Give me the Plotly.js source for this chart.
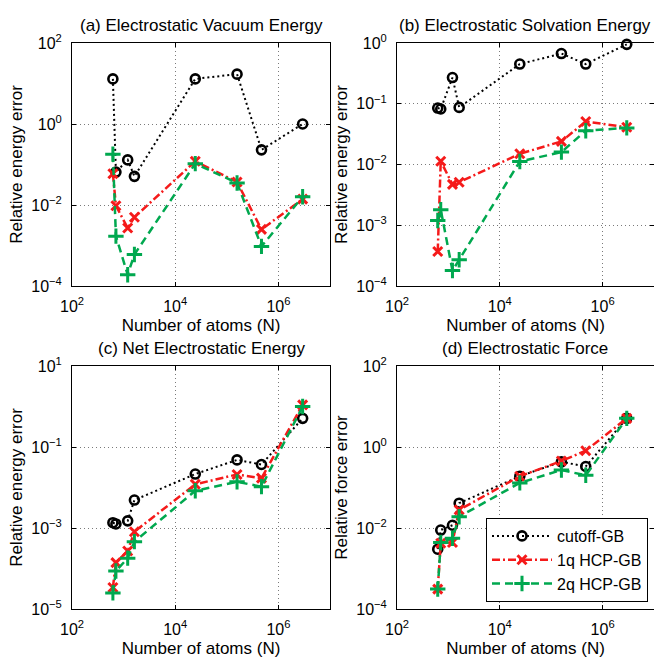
<!DOCTYPE html>
<html><head><meta charset="utf-8">
<script src="https://cdn.plot.ly/plotly-3.0.1.min.js"></script>
<style>html,body{margin:0;padding:0;background:#fff}</style>
</head><body><div id="chart" style="width:654px;height:658px"></div>
<script>
// ---- data ----
const atoms = [620, 710, 1200, 1620, 24500, 158000, 470000, 2950000];

// (a) Electrostatic Vacuum Energy
const vacCutoff = [13, 0.065, 0.13, 0.051, 13, 17, 0.23, 1.0];
const vac1q = [0.059, 0.0096, 0.0027, 0.005, 0.12, 0.037, 0.0025, 0.014];
const vac2q = [0.18, 0.0017, 0.00019, 0.0006, 0.105, 0.035, 0.00095, 0.016];

// (b) Electrostatic Solvation Energy
const solCutoff = [0.085, 0.082, 0.27, 0.087, 0.45, 0.67, 0.45, 0.95];
const sol1q = [0.00037, 0.0113, 0.0047, 0.0051, 0.015, 0.024, 0.051, 0.041];
const sol2q = [0.0012, 0.0018, 0.00018, 0.00027, 0.0112, 0.016, 0.036, 0.040];

// (c) Net Electrostatic Energy
const netCutoff = [0.00135, 0.00126, 0.0015, 0.0049, 0.0215, 0.048, 0.037, 0.51];
const net1q = [3.4e-5, 1.4e-4, 2.7e-4, 8.1e-4, 0.012, 0.021, 0.017, 1.1];
const net2q = [2.5e-5, 8.7e-5, 1.8e-4, 4.6e-4, 0.0083, 0.0138, 0.0105, 1.0];

// (d) Electrostatic Force
const forceCutoff = [0.0030, 0.0089, 0.0117, 0.041, 0.19, 0.43, 0.33, 5.1];
const force1q = [3.1e-4, 0.0042, 0.0044, 0.028, 0.19, 0.45, 0.81, 5.1];
const force2q = [3.1e-4, 0.0044, 0.0056, 0.019, 0.13, 0.27, 0.20, 5.1];

const seriesNames = ['cutoff-GB', '1q HCP-GB', '2q HCP-GB'];
const panelTitles = ['(a) Electrostatic Vacuum Energy', '(b) Electrostatic Solvation Energy',
                     '(c) Net Electrostatic Energy', '(d) Electrostatic Force'];
const yTitles = ['Relative energy error', 'Relative energy error', 'Relative energy error', 'Relative force error'];
const xTitle = 'Number of atoms (N)';

const xTickVals = [1e2, 1e4, 1e6];
const xTickText = ['10<sup>2</sup>', '10<sup>4</sup>', '10<sup>6</sup>'];
const yTickValsA = [1e-4, 1e-2, 1e0, 1e2];
const yTickTextA = ['10<sup>\u22124</sup>', '10<sup>\u22122</sup>', '10<sup>0</sup>', '10<sup>2</sup>'];
const yTickValsB = [1e-4, 1e-3, 1e-2, 1e-1, 1e0];
const yTickTextB = ['10<sup>\u22124</sup>', '10<sup>\u22123</sup>', '10<sup>\u22122</sup>', '10<sup>\u22121</sup>', '10<sup>0</sup>'];
const yTickValsC = [1e-5, 1e-3, 1e-1, 1e1];
const yTickTextC = ['10<sup>\u22125</sup>', '10<sup>\u22123</sup>', '10<sup>\u22121</sup>', '10<sup>1</sup>'];
const yTickValsD = [1e-4, 1e-2, 1e0, 1e2];
const yTickTextD = ['10<sup>\u22124</sup>', '10<sup>\u22122</sup>', '10<sup>0</sup>', '10<sup>2</sup>'];

// ---- styles ----
const RED = '#f51a1a', GREEN = '#00a84f';
const styles = [
  {line:{color:'black', width:2, dash:'2px,3px'},
   marker:{symbol:'circle-open', size:9, color:'black', line:{width:2.6, color:'black'}}},
  {line:{color:RED, width:2.5, dash:'8px,3px,2px,3px'},
   marker:{symbol:'x-thin-open', size:9, color:RED, line:{width:3, color:RED}}},
  {line:{color:GREEN, width:2.5, dash:'8px,5px'},
   marker:{symbol:'cross-thin-open', size:11, color:GREEN, line:{width:3, color:GREEN}}}
];

const panels = [
  {ys:[vacCutoff, vac1q, vac2q], xa:'x', ya:'y'},
  {ys:[solCutoff, sol1q, sol2q], xa:'x2', ya:'y2'},
  {ys:[netCutoff, net1q, net2q], xa:'x3', ya:'y3'},
  {ys:[forceCutoff, force1q, force2q], xa:'x4', ya:'y4'}
];

const traces = [];
panels.forEach((p, pi) => {
  p.ys.forEach((yv, si) => {
    traces.push({
      x: atoms, y: yv, type:'scatter', mode:'lines+markers',
      name: seriesNames[si], xaxis: p.xa, yaxis: p.ya,
      line: styles[si].line, marker: styles[si].marker,
      showlegend: pi === 3, cliponaxis: false
    });
  });
});

const W = 654, H = 658;
const FONT = 'Liberation Sans, Arial, sans-serif';
const colL = [72/W, 330/W], colR = [397/W, 1.0];
const rowT = [(H-286)/H, (H-43)/H], rowB = [(H-609)/H, (H-366)/H];

const common = {
  type:'log', tickmode:'array',
  ticks:'inside', ticklen:4, tickcolor:'black', tickwidth:1,
  showline:true, linecolor:'black', linewidth:1, mirror:'ticks',
  showgrid:true, gridcolor:'#7a7a7a', griddash:'1px,3px', gridwidth:1,
  zeroline:false, ticklabelstandoff: 6,
  tickfont:{family:FONT, size:16, color:'black'}
};
function xAxis(dom, anchor) {
  return Object.assign({}, common, {
    domain: dom, anchor: anchor, range:[2, 7],
    tickvals: xTickVals, ticktext: xTickText,
    title:{text:xTitle, font:{family:FONT, size:17, color:'black'}, standoff:4}
  });
}
function yAxis(dom, anchor, rng, tv, tt, title) {
  return Object.assign({}, common, {
    domain: dom, anchor: anchor, range: rng,
    tickvals: tv, ticktext: tt,
    title:{text:title, font:{family:FONT, size:17, color:'black'}, standoff:4}
  });
}

const annotations = [
  {t:panelTitles[0], x:201, y:25}, {t:panelTitles[1], x:525, y:25},
  {t:panelTitles[2], x:201, y:348}, {t:panelTitles[3], x:525, y:348}
].map(a => ({
  text: a.t, xref:'paper', yref:'paper', x: a.x/W, y: 1 - a.y/H,
  xanchor:'center', yanchor:'middle', showarrow:false,
  font:{family:FONT, size:17, color:'black'}
}));

const layout = {
  width: W, height: H, margin:{l:0, r:0, t:0, b:0},
  paper_bgcolor:'white', plot_bgcolor:'white',
  font:{family:FONT, color:'black'},
  xaxis: xAxis(colL, 'y'), yaxis: yAxis(rowT, 'x', [-4, 2], yTickValsA, yTickTextA, yTitles[0]),
  xaxis2: xAxis(colR, 'y2'), yaxis2: yAxis(rowT, 'x2', [-4, 0], yTickValsB, yTickTextB, yTitles[1]),
  xaxis3: xAxis(colL, 'y3'), yaxis3: yAxis(rowB, 'x3', [-5, 1], yTickValsC, yTickTextC, yTitles[2]),
  xaxis4: xAxis(colR, 'y4'), yaxis4: yAxis(rowB, 'x4', [-4, 2], yTickValsD, yTickTextD, yTitles[3]),
  annotations: annotations,
  showlegend: true,
  legend: {x: 648/W, y: (H-602)/H, xanchor:'right', yanchor:'bottom',
           bgcolor:'white', bordercolor:'black', borderwidth:1,
           font:{family:FONT, size:16, color:'black'}, tracegroupgap:0, itemwidth:60}
};

Plotly.newPlot('chart', traces, layout, {displayModeBar:false, staticPlot:true});
</script></body></html>
